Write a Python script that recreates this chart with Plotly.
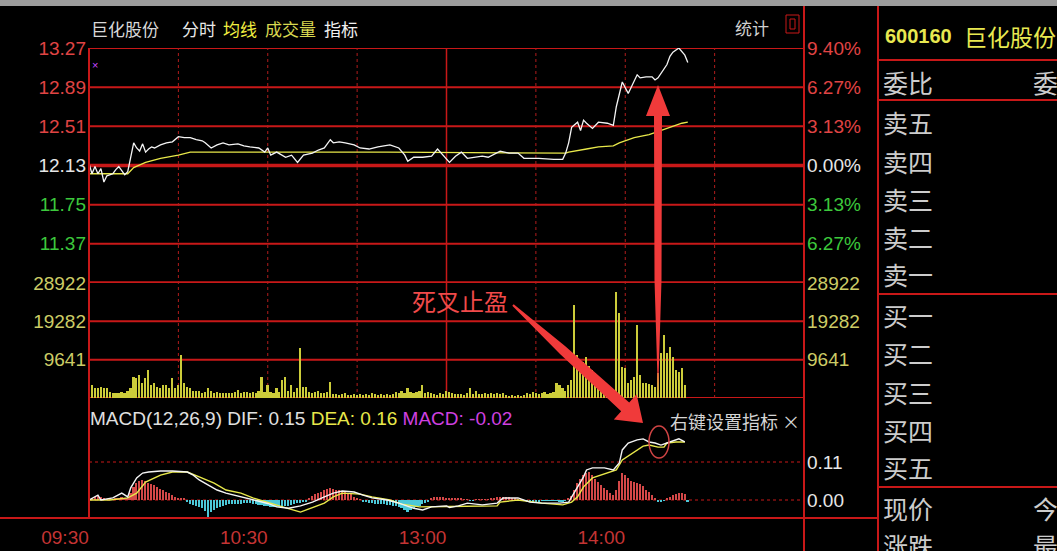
import plotly.graph_objects as go

W, H = 1057, 551

# ---- values (minute 0 = 09:30, 120 = 13:00) ----
prev_close = 12.13
time_ticks = [0, 60, 120, 180]
time_labels = ['09:30', '10:30', '13:00', '14:00']

price_levels = [11.37, 11.75, 12.13, 12.51, 12.89, 13.27]
pct_labels = ['6.27%', '3.13%', '0.00%', '3.13%', '6.27%', '9.40%']
vol_levels = [9641, 19282, 28922]
macd_levels = [0.00, 0.11]
macd_labels = ['0.00', '0.11']

price_min = [0, 1, 2, 3, 4, 5, 6, 7, 8, 9, 10, 11, 12, 13, 15, 16, 17, 18, 19, 20,
             21, 22, 24, 26, 28, 30, 32, 34, 36, 38, 39, 41, 43, 45, 47, 50, 52, 54, 57, 59,
             60, 61, 63, 66, 68, 70, 71, 72, 75, 77, 79, 81, 82, 84, 86, 89, 91, 94, 97, 101,
             104, 106, 107, 109, 112, 115, 117, 119, 121, 123, 125, 127, 130, 132, 134, 137, 138, 141, 144, 146,
             151, 156, 159, 160, 161, 162, 164, 165, 166, 167, 169, 171, 174, 176, 177, 179, 180, 181, 182, 184,
             185, 187, 189, 190, 191, 194, 195, 196, 198, 199, 200, 201]
price = [12.15, 12.05, 12.12, 12.05, 12.10, 11.97, 12.03, 12.04, 12.05, 12.09,
         12.12, 12.08, 12.04, 12.07, 12.35, 12.30, 12.27, 12.34, 12.26, 12.29,
         12.31, 12.30, 12.33, 12.35, 12.36, 12.41, 12.40, 12.40, 12.38, 12.37,
         12.35, 12.30, 12.33, 12.35, 12.33, 12.34, 12.32, 12.31, 12.30, 12.26,
         12.30, 12.23, 12.26, 12.21, 12.23, 12.16, 12.20, 12.23, 12.25, 12.28,
         12.30, 12.38, 12.35, 12.36, 12.35, 12.33, 12.30, 12.29, 12.31, 12.33,
         12.30, 12.23, 12.17, 12.21, 12.21, 12.22, 12.29, 12.22, 12.16, 12.22,
         12.26, 12.20, 12.21, 12.22, 12.21, 12.25, 12.27, 12.25, 12.25, 12.20,
         12.20, 12.19, 12.19, 12.25, 12.35, 12.50, 12.55, 12.47, 12.57, 12.54,
         12.49, 12.55, 12.54, 12.52, 12.70, 12.94, 12.89, 12.83, 12.89, 13.01,
         12.98, 12.99, 12.99, 12.96, 12.98, 13.11, 13.19, 13.23, 13.27, 13.23,
         13.20, 13.13]

avg_min = [0, 13, 15, 19, 24, 30, 34, 40, 100, 160, 161, 167, 171, 176, 178, 183, 188, 194, 199, 201]
avg_price = [12.05, 12.05, 12.11, 12.16, 12.20, 12.23, 12.26, 12.26, 12.26, 12.25,
             12.26, 12.29, 12.31, 12.32, 12.35, 12.40, 12.43, 12.49, 12.54, 12.55]

# volume per minute (hands)
volume = [4500, 3300, 2500, 2500, 2800, 2500, 2500, 1500, 1300, 1300,
          1300, 1400, 1300, 1800, 2500, 5300, 5000, 5800, 3800, 5000,
          7000, 3300, 3800, 2800, 2500, 3300, 3300, 2500, 5000, 2500,
          3300, 10800, 3800, 2800, 2500, 1800, 1800, 1800, 1300, 1500,
          2500, 1800, 1300, 1500, 1300, 1300, 1300, 1300, 1300, 1500,
          2000, 1300, 1500, 1500, 1300, 1500, 1300, 1800, 5300, 1500,
          3300, 1500, 1300, 2500, 1500, 4500, 5300, 1800, 3300, 1500,
          2500, 12600, 2800, 2800, 1500, 1300, 1500, 1800, 1300, 1300,
          1500, 4000, 1000, 1000, 800, 900, 1300, 800, 800, 900,
          800, 1000, 800, 900, 800, 1300, 900, 800, 1000, 800,
          900, 800, 1000, 1500, 1300, 1800, 1200, 2500, 1500, 1300,
          1500, 1800, 3300, 1300, 1500, 1300, 1000, 800, 1300, 1000,
          1800, 1500, 1300, 1000, 900, 1000, 800, 1300, 2500, 1000,
          1800, 900, 1000, 1300, 1000, 1300, 1000, 1300, 1000, 1300,
          800, 600, 700, 600, 700, 600, 800, 1300, 1000, 1500,
          1300, 1000, 1300, 1500, 1000, 1300, 1500, 3800, 3300, 2500,
          1800, 3300, 4500, 23400, 10800, 9600, 9100, 10300, 8000, 7000,
          6300, 4500, 3300, 2800, 2500, 1800, 1500, 26700, 21400, 7800,
          7500, 3800, 4500, 5300, 18400, 5800, 3800, 3800, 3500, 3300,
          2800, 6300, 11300, 15800, 11300, 12800, 10300, 7000, 6500, 7500,
          3300]

dif_min = [0, 3, 4, 8, 11, 13, 14, 16, 18, 20, 24, 28, 33, 35, 37, 40, 43, 46, 51, 55,
           60, 63, 67, 71, 75, 79, 82, 85, 89, 92, 95, 100, 104, 109, 112, 115, 120, 121, 124, 127,
           132, 137, 139, 144, 148, 152, 158, 161, 162, 164, 166, 167, 169, 173, 176, 178, 179, 181, 184, 186,
           188, 190, 192, 194, 196, 198, 200]
dif = [0, 0.014, 0, 0.006, 0.02, 0.009, 0.035, 0.064, 0.078, 0.081,
       0.084, 0.084, 0.081, 0.072, 0.058, 0.043, 0.029, 0.02, 0.009, 0,
       -0.01, -0.02, -0.024, -0.017, -0.006, 0.009, 0.02, 0.026, 0.023, 0.014,
       0.006, 0, -0.009, -0.024, -0.029, -0.02, -0.017, -0.022, -0.017, -0.009,
       -0.014, -0.009, 0.006, 0.006, -0.006, -0.009, -0.009, -0.006, 0.009, 0.038,
       0.067, 0.087, 0.093, 0.093, 0.087, 0.107, 0.145, 0.165, 0.174, 0.177,
       0.168, 0.165, 0.159, 0.165, 0.171, 0.177, 0.168]

dea_min = [0, 7, 13, 16, 19, 24, 28, 33, 37, 42, 46, 51, 55, 60, 65, 71, 75, 79, 82, 85,
           91, 95, 101, 105, 111, 116, 121, 137, 138, 144, 152, 159, 162, 164, 166, 169, 174, 177, 179, 183,
           186, 188, 191, 193, 194, 197, 200]
dea = [0, 0, 0.006, 0.02, 0.052, 0.072, 0.081, 0.081, 0.067, 0.049,
       0.029, 0.02, 0.006, -0.006, -0.02, -0.035, -0.023, -0.009, 0.009, 0.02,
       0.017, 0.009, 0, -0.012, -0.02, -0.02, -0.019, -0.017, -0.006, 0,
       -0.009, -0.014, -0.006, 0.009, 0.038, 0.064, 0.078, 0.087, 0.116, 0.139,
       0.156, 0.159, 0.153, 0.153, 0.165, 0.168, 0.168]

# MACD bars per minute
macd_hist = [0, 0.003, 0.008, 0.012, 0.008, 0.003, 0.002, 0.002, 0.002, 0.003,
             0.005, 0.008, 0.006, 0.004, 0.02, 0.038, 0.049, 0.055, 0.058, 0.054,
             0.05, 0.046, 0.043, 0.038, 0.033, 0.029, 0.024, 0.02, 0.014, 0.01,
             0.007, 0.005, 0.004, -0.006, -0.012, -0.014, -0.016, -0.02, -0.024, -0.032,
             -0.049, -0.036, -0.029, -0.024, -0.02, -0.017, -0.014, -0.013, -0.012, -0.012,
             -0.011, -0.011, -0.01, -0.01, -0.01, -0.011, -0.012, -0.014, -0.015, -0.017,
             -0.018, -0.019, -0.02, -0.02, -0.02, -0.019, -0.018, -0.016, -0.014, -0.012,
             -0.01, -0.008, -0.006, -0.004, 0.006, 0.012, 0.016, 0.02, 0.024, 0.028,
             0.032, 0.035, 0.033, 0.03, 0.028, 0.026, 0.024, 0.02, 0.016, 0.01,
             0.005, 0.002, -0.004, -0.006, -0.008, -0.01, -0.012, -0.012, -0.012, -0.013,
             -0.014, -0.015, -0.016, -0.018, -0.02, -0.024, -0.03, -0.035, -0.03, -0.024,
             -0.02, -0.016, -0.012, -0.008, -0.004, 0.004, 0.008, 0.01, 0.01, 0.008,
             0.006, 0.004, 0.004, 0.006, 0.006, 0.004, 0.002, 0.002, -0.002, -0.002,
             0.002, 0.002, 0.002, 0.002, 0.002, 0.004, 0.006, 0.008, 0.01, 0.01,
             0.01, 0.008, 0.006, 0.004, 0.002, 0.001, -0.002, -0.004, -0.006, -0.006,
             -0.005, -0.004, -0.002, -0.002, -0.002, -0.002, -0.002, -0.002, -0.003, -0.003,
             -0.002, 0.004, 0.012, 0.03, 0.049, 0.062, 0.072, 0.078, 0.081, 0.072,
             0.062, 0.052, 0.043, 0.035, 0.029, 0.02, 0.014, 0.03, 0.055, 0.078,
             0.072, 0.064, 0.055, 0.052, 0.049, 0.046, 0.04, 0.029, 0.022, 0.014,
             0.006, -0.004, -0.006, -0.002, 0.006, 0.01, 0.014, 0.018, 0.02, 0.019,
             0.016, -0.006]

# ---- style ----
RED = '#c81818'
NARROW = 'Liberation Sans Narrow, Arial Narrow, Liberation Sans, sans-serif'
CJK = 'Noto Sans CJK SC'


def level_color(v):
    if v > prev_close + 1e-9:
        return '#e04444'
    if v < prev_close - 1e-9:
        return '#3cc83c'
    return '#e6e6e6'


def px(x, y):
    # screen pixel -> paper fraction
    return x / W, 1 - y / H


x_dom = [89 / W, 804 / W]
price_dom = [1 - 283 / H, 1 - 48 / H]
vol_dom = [1 - 398 / H, 1 - 283 / H]
macd_dom = [1 - 518 / H, 1 - 398 / H]
price_rng = [10.99, 13.27]
vol_rng = [0, 28922]
macd_rng = [-0.0521, 0.2953]

fig = go.Figure()

fig.add_trace(go.Scatter(x=avg_min, y=avg_price, mode='lines', line=dict(color='#e8e84a', width=1.3),
                         xaxis='x', yaxis='y', hoverinfo='skip'))
fig.add_trace(go.Scatter(x=price_min, y=price, mode='lines', line=dict(color='#f4f4f4', width=1.3),
                         xaxis='x', yaxis='y'))
fig.add_trace(go.Bar(x=list(range(len(volume))), y=volume, width=0.55,
                     marker=dict(color='#cccc3a', line=dict(width=0)), xaxis='x2', yaxis='y2'))
hist_colors = ['#d44848' if v >= 0 else '#4cc8d8' for v in macd_hist]
fig.add_trace(go.Bar(x=list(range(len(macd_hist))), y=macd_hist, width=0.55,
                     marker=dict(color=hist_colors, line=dict(width=0)), xaxis='x3', yaxis='y3'))
fig.add_trace(go.Scatter(x=dea_min, y=dea, mode='lines', line=dict(color='#e8e84a', width=1.4),
                         xaxis='x3', yaxis='y3'))
fig.add_trace(go.Scatter(x=dif_min, y=dif, mode='lines', line=dict(color='#f4f4f4', width=1.4),
                         xaxis='x3', yaxis='y3'))
# empty traces so the right-hand overlay axes get drawn
fig.add_trace(go.Scatter(x=[], y=[], xaxis='x', yaxis='y4'))
fig.add_trace(go.Scatter(x=[], y=[], xaxis='x2', yaxis='y5'))

xa = dict(domain=x_dom, range=[0, 240], showgrid=False, zeroline=False, showline=False,
          showticklabels=False, ticks='', fixedrange=True, automargin=False)
ya = dict(showgrid=False, zeroline=False, showline=False, ticks='', fixedrange=True, automargin=False,
          tickfont=dict(family=NARROW, size=19), ticklabelstandoff=2)

fig.update_layout(
    width=W, height=H, margin=dict(l=0, r=0, t=0, b=0, autoexpand=False),
    paper_bgcolor='black', plot_bgcolor='black', showlegend=False, bargap=0,
    xaxis=dict(xa, anchor='y'),
    xaxis2=dict(xa, anchor='y2', matches='x'),
    xaxis3=dict(xa, anchor='y3', matches='x', showticklabels=True, tickvals=time_ticks,
                ticktext=time_labels, ticklabelshift=-24, ticklabelstandoff=6,
                tickfont=dict(family=NARROW, size=19, color='#c43434')),
    yaxis=dict(ya, domain=price_dom, range=price_rng, anchor='x', tickvals=price_levels,
               ticktext=[f'<span style="color:{level_color(v)}">{v:.2f}</span>' for v in price_levels]),
    yaxis4=dict(ya, overlaying='y', side='right', anchor='x', range=price_rng, tickvals=price_levels,
                ticktext=[f'<span style="color:{level_color(v)}">{t}</span>'
                          for v, t in zip(price_levels, pct_labels)]),
    yaxis2=dict(ya, domain=vol_dom, range=vol_rng, anchor='x2', tickvals=vol_levels,
                ticktext=[str(v) for v in vol_levels], tickfont=dict(family=NARROW, size=19, color='#cccc66')),
    yaxis5=dict(ya, overlaying='y2', side='right', anchor='x2', range=vol_rng, tickvals=vol_levels,
                ticktext=[str(v) for v in vol_levels], tickfont=dict(family=NARROW, size=19, color='#cccc66')),
    yaxis3=dict(ya, domain=macd_dom, range=macd_rng, anchor='x3', side='right', tickvals=macd_levels,
                ticktext=macd_labels, tickfont=dict(family=NARROW, size=19, color='#e6e6e6')),
)

shapes = []


def hline(yval, yref, width=2, dash='solid'):
    shapes.append(dict(type='line', xref='x domain', yref=yref, x0=0, x1=1, y0=yval, y1=yval,
                       line=dict(color=RED, width=width, dash=dash), layer='below'))


def pline(x0, y0, x1, y1, width=2, color=RED):
    a, b = px(x0, y0)
    c, d = px(x1, y1)
    shapes.append(dict(type='line', xref='paper', yref='paper', x0=a, y0=b, x1=c, y1=d,
                       line=dict(color=color, width=width)))


# grid of the price / volume / macd panels
for v in price_levels + [price_rng[0]]:
    hline(v, 'y', width=3.5 if v in (prev_close, price_rng[0]) else 2)
for v in [0] + vol_levels[:2]:
    hline(v, 'y2')
for v in macd_levels:
    hline(v, 'y3', width=1, dash='dot')
for m in [30, 60, 90, 150, 180, 210]:
    shapes.append(dict(type='line', xref='x', yref='paper', x0=m, x1=m, y0=vol_dom[0], y1=price_dom[1],
                       line=dict(color='#b01c1c', width=1, dash='dot'), layer='below'))
shapes.append(dict(type='line', xref='x', yref='paper', x0=120, x1=120, y0=vol_dom[0], y1=price_dom[1],
                   line=dict(color=RED, width=1.5), layer='below'))

# frame lines
pline(89, 48, 89, 518)
pline(804, 5, 804, 551)
pline(878, 5, 878, 551)
pline(0, 518, 878, 518)
for yy in [60, 100, 294, 487]:
    pline(878, yy, W, yy)

# top window bar
a, b = px(0, 0)
c, d = px(W, 6)
shapes.append(dict(type='rect', xref='paper', yref='paper', x0=a, y0=b, x1=c, y1=d,
                   fillcolor='#9c9c9c', line=dict(width=0)))

# small box next to 统计
for (x0, y0, x1, y1) in [(786, 15, 799, 33), (790, 19, 795, 29)]:
    a, b = px(x0, y0)
    c, d = px(x1, y1)
    shapes.append(dict(type='rect', xref='paper', yref='paper', x0=a, y0=b, x1=c, y1=d,
                       line=dict(color=RED, width=1)))


def poly(points, color):
    pts = [px(x, y) for x, y in points]
    path = 'M ' + ' L '.join(f'{p[0]:.5f},{p[1]:.5f}' for p in pts) + ' Z'
    shapes.append(dict(type='path', xref='paper', yref='paper', path=path,
                       fillcolor=color, line=dict(width=0)))


# hand drawn red arrows
poly([(658, 396), (654.5, 280), (654, 116), (646, 116), (658, 85), (670, 116),
      (662, 116), (661.5, 280)], '#f03a3a')
poly([(512.3, 305.7), (560, 354), (621.2, 411.3), (613.8, 419.5), (643, 423),
      (636.6, 394.3), (629.2, 402.5), (565, 346), (513.7, 304.3)], '#f03a3a')
a, b = px(649, 426)
c, d = px(669, 458)
shapes.append(dict(type='circle', xref='paper', yref='paper', x0=a, y0=b, x1=c, y1=d,
                   line=dict(color='#d04444', width=1.5)))

fig.update_layout(shapes=shapes)

annotations = []


def label(x, y, text, size, color, family=CJK, anchor='left'):
    a, b = px(x, y)
    annotations.append(dict(x=a, y=b, xref='paper', yref='paper', text=text, showarrow=False,
                            xanchor=anchor, yanchor='middle', font=dict(family=family, size=size, color=color)))


label(89, 28, '巨化股份', 17, '#d8d8d8')
label(180, 28, '分时', 17, '#e8e8e8')
label(221, 28, '均线', 17, '#f0f040')
label(263, 28, '成交量', 17, '#d8d850')
label(322, 28, '指标', 17, '#f0f0f0')
label(733, 27, '统计', 17, '#d0d0d0')
label(90, 65, '×', 11, '#c848ff', family=NARROW)

label(410, 300, '死叉止盈', 24, '#f04a4a')
label(668, 421, '右键设置指标 ×', 18, '#d4d4d4')
label(88, 418, 'MACD(12,26,9) DIF: 0.15 <span style="color:#e8e84a">DEA: 0.16</span> '
               '<span style="color:#d040e0">MACD: -0.02</span>', 19, '#e0e0e0', family=NARROW)

# order book panel on the right
label(883, 36, '<b>600160</b>', 20, '#e8e850', family='Liberation Sans, sans-serif')
label(962, 36, '巨化股份', 23, '#e8e850')
label(881, 82, '委比', 25, '#cccccc')
label(1031, 82, '委差', 25, '#cccccc')
for yy, t in zip([122, 161, 199, 237, 274], ['卖五', '卖四', '卖三', '卖二', '卖一']):
    label(881, yy, t, 25, '#cccccc')
for yy, t in zip([315, 353, 392, 430, 467], ['买一', '买二', '买三', '买四', '买五']):
    label(881, yy, t, 25, '#cccccc')
label(881, 508, '现价', 25, '#cccccc')
label(881, 545, '涨跌', 25, '#cccccc')
label(1031, 508, '今开', 25, '#cccccc')
label(1031, 545, '最高', 25, '#cccccc')

fig.update_layout(annotations=annotations)

# the page body has an 8px default margin; drop it so the figure sits at the window corner
fig.write_html("out.html", config={'displayModeBar': False},
               post_script="document.body.style.margin='0';document.body.style.overflow='hidden';")
